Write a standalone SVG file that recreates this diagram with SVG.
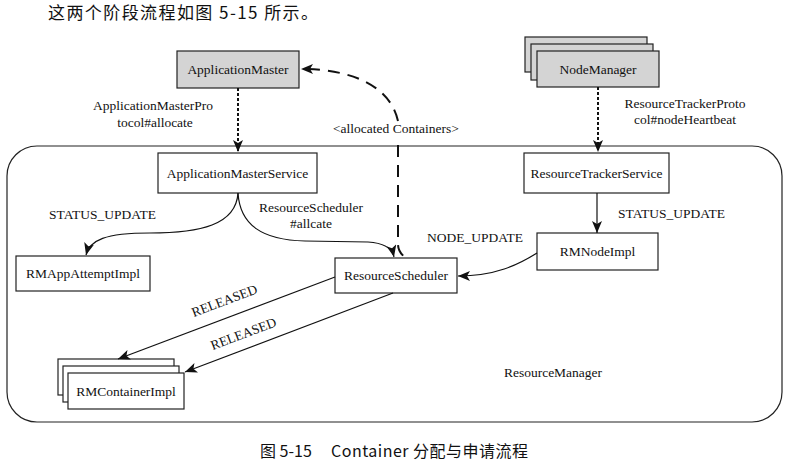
<svg xmlns="http://www.w3.org/2000/svg" width="792" height="468" viewBox="0 0 792 468">
<defs>
<style>
.box{fill:#fff;stroke:#222;stroke-width:1.2}
.gray{fill:#d4d4d4;stroke:#222;stroke-width:1.2}
.lbl{font-family:"Liberation Serif","Times New Roman",serif;font-size:13.5px;fill:#111}
.mid{text-anchor:middle}
.cjk{font-family:"Noto Sans CJK SC","Noto Sans",sans-serif;fill:#111}
.ln{fill:none;stroke:#111;stroke-width:1.2}
.dot{fill:none;stroke:#111;stroke-width:2;stroke-dasharray:3 2}
.dash{fill:none;stroke:#111;stroke-width:2;stroke-dasharray:12 8}
</style>
<marker id="ah" viewBox="0 0 12 10" refX="12" refY="5" markerWidth="12" markerHeight="10" markerUnits="userSpaceOnUse" orient="auto">
<path d="M0,0 L12,5 L0,10 L3,5 z" fill="#111"/>
</marker>
</defs>
<rect width="792" height="468" fill="#fff"/>
<text class="cjk" x="48" y="19" font-size="17" textLength="270" lengthAdjust="spacing">这两个阶段流程如图 5-15 所示。</text>

<g id="resourcemanager">
<rect x="7" y="146" width="775" height="276" rx="30" ry="30" fill="none" stroke="#222" stroke-width="1.2"/>
<text class="lbl mid" x="553" y="377">ResourceManager</text>
</g>

<g id="applicationmaster">
<rect class="gray" x="177" y="51" width="122" height="37"/>
<text class="lbl mid" x="238" y="74">ApplicationMaster</text>
</g>

<g id="nodemanager">
<rect class="gray" x="525" y="37" width="122" height="35"/>
<rect class="gray" x="531" y="44" width="122" height="36"/>
<rect class="gray" x="537" y="51" width="122" height="36"/>
<text class="lbl mid" x="598" y="74">NodeManager</text>
</g>

<g id="applicationmasterservice">
<rect class="box" x="158" y="153" width="159" height="40"/>
<text class="lbl mid" x="237.5" y="177.5">ApplicationMasterService</text>
</g>

<g id="resourcetrackerservice">
<rect class="box" x="524" y="153" width="145" height="40"/>
<text class="lbl mid" x="596.5" y="177.5">ResourceTrackerService</text>
</g>

<g id="rmnodeimpl">
<rect class="box" x="537" y="233" width="121" height="37"/>
<text class="lbl mid" x="597.5" y="256">RMNodeImpl</text>
</g>

<g id="rmappattemptimpl">
<rect class="box" x="16" y="256" width="134" height="35"/>
<text class="lbl mid" x="83" y="278">RMAppAttemptImpl</text>
</g>

<g id="resourcescheduler">
<rect class="box" x="335" y="258" width="122" height="35"/>
<text class="lbl mid" x="396" y="280">ResourceScheduler</text>
</g>

<g id="rmcontainerimpl">
<rect class="box" x="58" y="359" width="116" height="36"/>
<rect class="box" x="63" y="366" width="116" height="36"/>
<rect class="box" x="68" y="373" width="116" height="36"/>
<text class="lbl mid" x="126" y="395.5">RMContainerImpl</text>
</g>

<g id="connectors">
<path class="dot" d="M238,88 L238,152" marker-end="url(#ah)"/>
<path class="dot" d="M598,87 L598,152" marker-end="url(#ah)"/>
<path class="dash" d="M398,121 C390,85 350,69 301,69" marker-end="url(#ah)"/>
<path class="dash" d="M398,145 L398,244 C398,251 402,255 406,258"/>
<path class="ln" d="M238,193 C236,225 200,233 150,233 C105,233 90,240 86,255" marker-end="url(#ah)"/>
<path class="ln" d="M238,193 C240,225 262,240 305,241 L368,242 C384,243 392,248 394,257" marker-end="url(#ah)"/>
<path class="ln" d="M597,193 L597,233" marker-end="url(#ah)"/>
<path class="ln" d="M537,253 C518,265 495,276 458,276" marker-end="url(#ah)"/>
<path class="ln" d="M335,277 L118,359" marker-end="url(#ah)"/>
<path class="ln" d="M393,293 L185,372" marker-end="url(#ah)"/>

<text class="lbl mid" x="153" y="110">ApplicationMasterPro</text>
<text class="lbl mid" x="155" y="127">tocol#allocate</text>
<text class="lbl mid" x="685" y="108">ResourceTrackerProto</text>
<text class="lbl mid" x="685" y="124">col#nodeHeartbeat</text>
<text class="lbl" x="333" y="133">&lt;allocated Containers&gt;</text>
<text class="lbl" x="49" y="219">STATUS_UPDATE</text>
<text class="lbl mid" x="311" y="212">ResourceScheduler</text>
<text class="lbl mid" x="311" y="228">#allcate</text>
<text class="lbl" x="618" y="218">STATUS_UPDATE</text>
<text class="lbl" x="427" y="242">NODE_UPDATE</text>
<text class="lbl mid" transform="translate(226,305) rotate(-20.7)">RELEASED</text>
<text class="lbl mid" transform="translate(245,338) rotate(-20.7)">RELEASED</text>
</g>

<text class="cjk" x="260" y="457" font-size="16">图 5-15</text>
<text class="cjk" x="331" y="457" font-size="16" textLength="197" lengthAdjust="spacing">Container 分配与申请流程</text>
</svg>
